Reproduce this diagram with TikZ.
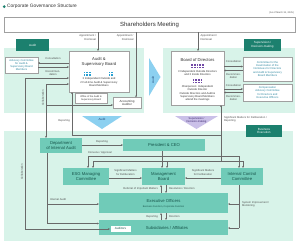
\documentclass[tikz,border=0pt]{standalone}
\usepackage{fontspec}
\setmainfont{Liberation Sans}
\usetikzlibrary{arrows.meta}
\definecolor{tabdark}{RGB}{28,128,110}
\definecolor{tealbox}{RGB}{112,203,184}
\definecolor{tealtext}{RGB}{22,84,74}
\definecolor{region}{RGB}{216,243,233}
\definecolor{linegray}{RGB}{105,105,105}
\definecolor{labelgray}{RGB}{80,80,80}
\definecolor{titlegray}{RGB}{50,50,50}
\definecolor{boxborder}{RGB}{160,160,160}
\definecolor{auditblue}{RGB}{140,208,240}
\definecolor{auditbluetext}{RGB}{30,70,120}
\definecolor{lav}{RGB}{202,192,232}
\definecolor{lavtext}{RGB}{60,40,110}
\definecolor{comtext}{RGB}{45,135,160}
\definecolor{iconblue}{RGB}{40,160,210}
\definecolor{iconpurple}{RGB}{112,72,165}
\tikzset{
  fsix/.style={font=\fontsize{6}{7}\selectfont},
  ffive/.style={font=\fontsize{4.8}{5.6}\selectfont},
  ffour/.style={font=\fontsize{4.2}{4.9}\selectfont},
  fthree/.style={font=\fontsize{3}{3.6}\selectfont},
  fsmall/.style={font=\fontsize{2.7}{3.3}\selectfont},
  ftiny/.style={font=\fontsize{2.4}{2.9}\selectfont},
  whitebox/.style={draw=boxborder, fill=white, line width=0.4pt, inner sep=0pt, outer sep=0pt},
  tealnode/.style={fill=tealbox, text=tealtext, inner sep=0pt, outer sep=0pt, align=center, ffour},
  tabnode/.style={fill=tabdark, text=white, inner sep=0pt, outer sep=0pt, align=center, fthree},
  lbl/.style={text=labelgray, inner sep=0pt, outer sep=0pt, fsmall},
  arr/.style={draw=linegray, line width=0.4pt, -{Stealth[length=2pt,width=1.8pt]}},
  ln/.style={draw=linegray, line width=0.4pt},
  sq/.style={inner sep=0pt, minimum size=1.7pt},
}
\begin{document}
\begin{tikzpicture}[x=1pt,y=-1pt]
\useasboundingbox (0,0) rectangle (300,249);
\fill[white] (0,0) rectangle (300,249);

% title
\fill[tabdark] (4.2,6.6) circle (1.5);
\node[anchor=west, ffive, text=titlegray, inner sep=0pt] (title) at (7,6.6) {Corporate Governance Structure};
\node[anchor=east, ftiny, text=labelgray, inner sep=0pt] (date) at (294,12.5) {(As of March 31, 2025)};

% regions
\fill[region] (4,48) rectangle (144,113);
\fill[region] (163,48) rectangle (295,113);
\fill[region] (4,131) rectangle (293,241);

% tabs
\node[tabnode, minimum width=33, minimum height=12] (audtab) at (32.5,45) {Audit};
\node[tabnode, minimum width=37, minimum height=12] (suptab) at (262.5,45) {Supervision /\\Decision-making};
\node[tabnode, minimum width=36, minimum height=12] (bustab) at (264,131) {Business\\Execution};

% shareholders
\node[whitebox, minimum width=291, minimum height=15, fsix, text=titlegray] (sh) at (149.5,24.5) {Shareholders Meeting};

% audit area boxes
\node[whitebox, minimum width=33, minimum height=16, align=center, fsmall, text=comtext] (adv) at (21.5,65) {Advisory Committee\\for Audit \&\\Supervisory Board\\Members};
\node[whitebox, minimum width=60, minimum height=41] (asb) at (99,71.5) {};
\node[ffour, text=titlegray, align=center, inner sep=0pt] (asbt) at (99,61.5) {Audit \&\\Supervisory Board};
\foreach \i in {0,1,2}{\foreach \j in {0,1}{
  \node[sq, fill=iconblue] at (84.5+\i*2.7,72.5+\j*2.7) {};
}}
\foreach \i in {0,1}{\foreach \j in {0,1}{
  \node[sq, fill=iconblue] at (109.5+\i*2.7,72.5+\j*2.7) {};
}}
\node[fsmall, text=titlegray, align=center, inner sep=0pt] (asbx) at (99,82.3) {3 Independent Outside and\\2 Full-time Audit \& Supervisory\\Board Members};
\node[whitebox, minimum width=32, minimum height=10, align=center, ftiny, text=titlegray] (off) at (91,98) {Office of the Audit \&\\Supervisory Board};
\node[whitebox, minimum width=28, minimum height=11, align=center, fthree, text=titlegray] (aa) at (127,103) {Accounting\\Auditor};

% audit arrows (shapes)
\fill[auditblue] (149,58) -- (160.5,77) -- (149,96) -- cycle;
\node[rotate=90, fthree, text=auditbluetext, inner sep=0pt] (auditr) at (153,80) {Audit};
\fill[auditblue] (82,116) -- (122,116) -- (102,129) -- cycle;
\node[fthree, text=auditbluetext, inner sep=0pt] (auditd) at (102,119.8) {Audit};
\fill[lav] (175,116) -- (218,116) -- (196.5,129) -- cycle;
\node[fsmall, text=lavtext, align=center, inner sep=0pt] (supd) at (196.5,120.5) {Supervision /\\Decision-making};

% board of directors
\node[whitebox, minimum width=53, minimum height=54] (bod) at (197.5,78) {};
\node[ffour, text=titlegray, inner sep=0pt] (bodt) at (197.5,59.5) {Board of Directors};
\foreach \i in {0,...,4}{\foreach \j in {0,1}{\node[sq, fill=iconpurple] at (192.2+\i*2.7,64.8+\j*2.6) {};}}
\node[fsmall, text=titlegray, align=center, inner sep=0pt] (bodx1) at (197.5,73) {3 Independent Outside Directors\\and 3 Inside Directors};
\foreach \i in {0,...,3}{\foreach \j in {0,1}{\node[sq, fill=iconpurple] at (193.5+\i*2.7,79.8+\j*2.6) {};}}
\node[fsmall, text=titlegray, align=center, inner sep=0pt] (bodx2) at (197.5,93.5) {Chairperson: Independent\\Outside Director\\Outside Directors and Audit \&\\Supervisory Board Members\\attend the meetings};

% committees
\node[whitebox, minimum width=49, minimum height=24, align=center, fsmall, text=comtext] (nom) at (267.5,69) {Committee for the\\Examination of the\\Nominees for Directors\\and Audit \& Supervisory\\Board Members};
\node[whitebox, minimum width=49, minimum height=17, align=center, fsmall, text=comtext] (comp) at (267.5,92.5) {Compensation\\Advisory Committee\\for Directors and\\Executive Officers};

% business execution boxes
\node[tealnode, minimum width=42, minimum height=15] (dia) at (61,145.5) {Department\\of Internal Audit};
\node[tealnode, minimum width=82, minimum height=12] (pres) at (164,145) {President \& CEO};
\node[tealnode, minimum width=46, minimum height=17] (esg) at (86,176.5) {ESG Managing\\Committee};
\node[tealnode, minimum width=43, minimum height=17] (mb) at (163.5,176.5) {Management\\Board};
\node[tealnode, minimum width=42, minimum height=17] (icc) at (242,176.5) {Internal Control\\Committee};
\node[tealnode, minimum width=129, minimum height=20] (exo) at (163.5,203) {};
\node[ffour, text=tealtext, inner sep=0pt] (exot) at (163.5,200.5) {Executive Officers};
\node[ftiny, text=tealtext, inner sep=0pt] (exos) at (163.5,206.5) {Business Function, Corporate Function};
\node[tealnode, minimum width=129, minimum height=15] (sub) at (163.5,227.5) {};
\node[ffour, text=tealtext, inner sep=0pt] (subt) at (167,227.5) {Subsidiaries / Affiliates};
\node[whitebox, draw=tealbox, minimum width=21, minimum height=7, fthree, text=tealtext] (aud) at (120.5,228.5) {Auditors};

% appointment arrows
\draw[arr] (98,0 |- sh.south) -- (98,0 |- asb.north);
\node[lbl, anchor=east, align=right] at (96,37.5) {Appointment /\\Dismissal};
\draw[arr] (136,0 |- sh.south) -- (136,0 |- aa.north);
\node[lbl, anchor=east, align=right] at (133.5,37.5) {Appointment /\\Dismissal};
\draw[arr] (198,0 |- sh.south) -- (198,0 |- bod.north);
\node[lbl, anchor=west, align=left] at (200.5,37.5) {Appointment /\\Dismissal};

% consultation left
\node[lbl] at (53,59) {Consultation};
\draw[arr] (asb.west |- 0,63) -- (adv.east |- 0,63);
\draw[arr] (adv.east |- 0,67) -- (asb.west |- 0,67);
\node[lbl, align=center] at (53,73) {Recommen-\\dation};

% consultation right
\node[lbl] at (233.5,62) {Consultation};
\draw[arr] (bod.east |- 0,66.5) -- (nom.west |- 0,66.5);
\draw[arr] (nom.west |- 0,70.5) -- (bod.east |- 0,70.5);
\node[lbl, align=center] at (233.5,76) {Recommen-\\dation};
\node[lbl] at (233.5,85.5) {Consultation};
\draw[arr] (bod.east |- 0,89) -- (comp.west |- 0,89);
\draw[arr] (comp.west |- 0,92.5) -- (bod.east |- 0,92.5);
\node[lbl, align=center] at (233.5,98) {Recommen-\\dation};

% collaboration lines
\coordinate (c1top) at (25,78);
\coordinate (c1bot) at (25,229);
\draw[arr] (c1top) -- (asb.west |- c1top);
\draw[arr] (c1top) -- (c1bot) -- (aud.west |- c1bot);
\node[lbl, rotate=90] at (21.8,172) {Collaboration};
\coordinate (c2top) at (46,84);
\coordinate (c2mid) at (46,105);
\draw[arr] (c2top) -- (asb.west |- c2top);
\draw[arr] (c2top) -- (46,0 |- dia.north);
\draw[arr] (c2mid) -- (aa.west |- c2mid);
\node[lbl, rotate=90] at (42.8,98) {Collaboration};
% internal audit
\coordinate (ia1) at (47,204);
\coordinate (ia2) at (47,223.5);
\draw[ln] (47,0 |- dia.south) -- (ia2);
\draw[arr] (ia1) -- (exo.west |- ia1);
\draw[arr] (ia2) -- (sub.west |- ia2);
\node[lbl, anchor=west] at (50,200) {Internal Audit};

% reporting to A&SB and Board
\coordinate (r1) at (72,135);
\coordinate (r2) at (221,135);
\coordinate (r3) at (221,161);
\draw[arr] (r1) -- (72,0 |- asb.south);
\draw[ln] (r1) -- (r2);
\draw[arr] (r3) -- (221,0 |- bod.south);
\node[lbl, anchor=east] at (70,121) {Reporting};
\node[lbl, anchor=west, align=left] at (224,119.5) {Significant Matters for Deliberation /\\Reporting};

% board line B
\coordinate (b1) at (93,161);
\coordinate (b2) at (243,161);
\draw[ln] (b1) -- (b2);
\draw[arr] (b1) -- (93,0 |- esg.north);
\draw[arr] (167,161) -- (167,0 |- mb.north);
\draw[arr] (b2) -- (243,0 |- icc.north);

% president lines
\coordinate (p1) at (88,156);
\coordinate (p2) at (239,156);
\draw[ln] (p1) -- (p2);
\draw[arr] (162,0 |- pres.south) -- (162,0 |- mb.north);
\draw[arr] (p1) -- (88,0 |- esg.north);
\draw[arr] (p2) -- (239,0 |- icc.north);
\node[lbl, anchor=west] at (88,152.8) {Convene / Approval};

% dept -> president
\draw[arr] (dia.east |- 0,145) -- (pres.west |- 0,145);
\node[lbl] at (102,141.5) {Reporting};

% committees -> MB
\draw[arr] (esg.east |- 0,178) -- (mb.west |- 0,178);
\node[lbl, align=center] at (125.5,172.5) {Significant Matters\\for Deliberation};
\draw[arr] (icc.west |- 0,178) -- (mb.east |- 0,178);
\node[lbl, align=center] at (203,172.5) {Significant Matters\\for Deliberation};

% MB <-> Exec
\draw[arr] (161,0 |- exo.north) -- (161,0 |- mb.south);
\draw[arr] (166,0 |- mb.south) -- (166,0 |- exo.north);
\node[lbl, anchor=east] at (158,189) {Referral of Important Matters};
\node[lbl, anchor=west] at (169,189) {Resolution / Direction};

% Exec <-> Subs
\draw[arr] (161,0 |- sub.north) -- (161,0 |- exo.south);
\draw[arr] (166,0 |- exo.south) -- (166,0 |- sub.north);
\node[lbl, anchor=east] at (158,216.5) {Reporting};
\node[lbl, anchor=west] at (169,216.5) {Direction};

% system improvement
\coordinate (s1) at (239,204);
\coordinate (s2) at (239,228);
\draw[ln] (239,0 |- icc.south) -- (s2);
\draw[arr] (s1) -- (exo.east |- s1);
\draw[arr] (s2) -- (sub.east |- s2);
\node[lbl, anchor=west, align=left] at (242,204.5) {System Improvement /\\Monitoring};
\end{tikzpicture}
\end{document}
